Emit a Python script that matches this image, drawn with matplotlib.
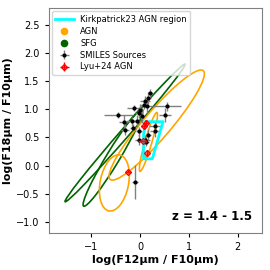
"""Mid-IR colour-colour diagram of SMILES sources at z = 1.4 - 1.5."""

from __future__ import annotations

import matplotlib

matplotlib.use("Agg")
import matplotlib.pyplot as plt
from matplotlib.patches import Ellipse

# SMILES sources: log(F12/F10), log(F18/F10) and errors
smiles_x = [0.21, 0.17, 0.10, 0.07, 0.14, -0.13, 0.00, 0.55, 0.51, -0.03, 0.03, -0.17,
            -0.07, -0.31, -0.34, -0.14, -0.03, 0.31, 0.31, -0.03, 0.10, -0.45, 0.13, 0.17, -0.10]
smiles_y = [1.29, 1.20, 1.14, 1.08, 1.05, 1.02, 0.99, 1.05, 0.90, 0.94, 0.88, 0.79,
            0.79, 0.64, 0.77, 0.67, 0.61, 0.70, 0.61, 0.46, 0.46, 0.90, 0.42, 0.55, -0.29]
smiles_xerr = [0.05, 0.05, 0.10, 0.08, 0.10, 0.15, 0.06, 0.28, 0.12, 0.08, 0.06, 0.12,
               0.10, 0.08, 0.10, 0.06, 0.06, 0.12, 0.10, 0.08, 0.10, 0.30, 0.06, 0.06, 0.06]
smiles_yerr = [0.08, 0.10, 0.10, 0.08, 0.12, 0.05, 0.10, 0.08, 0.12, 0.10, 0.12, 0.08,
               0.10, 0.10, 0.12, 0.06, 0.08, 0.10, 0.10, 0.10, 0.08, 0.05, 0.08, 0.10, 0.30]

# Lyu+24 AGN
lyu_x = [0.07, 0.12, 0.05, 0.14, -0.24]
lyu_y = [0.70, 0.76, 0.43, 0.22, -0.11]
lyu_xerr = [0.05, 0.05, 0.10, 0.03, 0.05]
lyu_yerr = [0.05, 0.05, 0.02, 0.05, 0.03]

# Kirkpatrick23 AGN region outline
k23_x = [0.12, 0.47, 0.25, 0.07, 0.07, 0.12]
k23_y = [0.78, 0.78, 0.12, 0.12, 0.55, 0.78]

# template tracks drawn as ellipses: centre x, centre y, length, width, angle (deg)
sfg_ellipses = [
    (-0.31, 0.58, 3.47, 0.17, 44.8),
    (-0.56, 0.14, 2.10, 0.26, 55.0),
]
agn_ellipses = [
    (0.34, 0.72, 2.72, 0.52, 45.0),
    (-0.53, -0.31, 1.02, 0.58, 76.0),
    (0.17, 0.42, 1.10, 0.14, 71.6),
]

AGN_COLOR = "orange"
SFG_COLOR = "darkgreen"


def add_ellipses(ax, ellipses, color):
    for cx, cy, length, width, angle in ellipses:
        ax.add_patch(
            Ellipse((cx, cy), length, width, angle=angle, fill=False,
                    edgecolor=color, linewidth=1.2, zorder=2)
        )


def make_plot(output: str) -> None:
    fig = plt.figure(figsize=(2.7, 2.7), dpi=100)
    ax = fig.add_axes([0.18, 0.137, 0.79, 0.833])

    add_ellipses(ax, sfg_ellipses, SFG_COLOR)
    add_ellipses(ax, agn_ellipses, AGN_COLOR)

    ax.plot(k23_x, k23_y, color="cyan", linewidth=2.0, zorder=4,
            label="Kirkpatrick23 AGN region")
    ax.scatter([], [], color=AGN_COLOR, s=20, label="AGN")
    ax.scatter([], [], color=SFG_COLOR, s=20, label="SFG")

    ax.errorbar(smiles_x, smiles_y, xerr=smiles_xerr, yerr=smiles_yerr,
                fmt="o", color="black", ms=2.0, ecolor="gray", elinewidth=1.0,
                zorder=3, label="SMILES Sources")
    ax.errorbar(lyu_x, lyu_y, xerr=lyu_xerr, yerr=lyu_yerr,
                fmt="D", color="red", mfc="none", mec="red", ms=3.0, mew=1.0,
                ecolor="red", elinewidth=1.0, zorder=5, label="Lyu+24 AGN")

    ax.set_xlim(-1.88, 2.5)
    ax.set_ylim(-1.2, 2.8)
    ax.set_xticks([-1, 0, 1, 2])
    ax.set_yticks([-1.0, -0.5, 0.0, 0.5, 1.0, 1.5, 2.0, 2.5])
    ax.tick_params(labelsize=7, length=3, width=0.8)
    for spine in ax.spines.values():
        spine.set_color("gray")

    ax.set_xlabel("log(F12µm / F10µm)", fontsize=8, fontweight="bold", labelpad=2)
    ax.set_ylabel("log(F18µm / F10µm)", fontsize=8, fontweight="bold", labelpad=2)
    ax.text(0.955, 0.075, "z = 1.4 - 1.5", transform=ax.transAxes, ha="right",
            va="center", fontsize=8.5, fontweight="bold")

    ax.legend(loc="upper left", fontsize=6, frameon=True, borderaxespad=0.4,
              handlelength=2.2, labelspacing=0.35)

    fig.savefig(output, dpi=100)
    plt.close(fig)


if __name__ == "__main__":
    make_plot("out.png")
